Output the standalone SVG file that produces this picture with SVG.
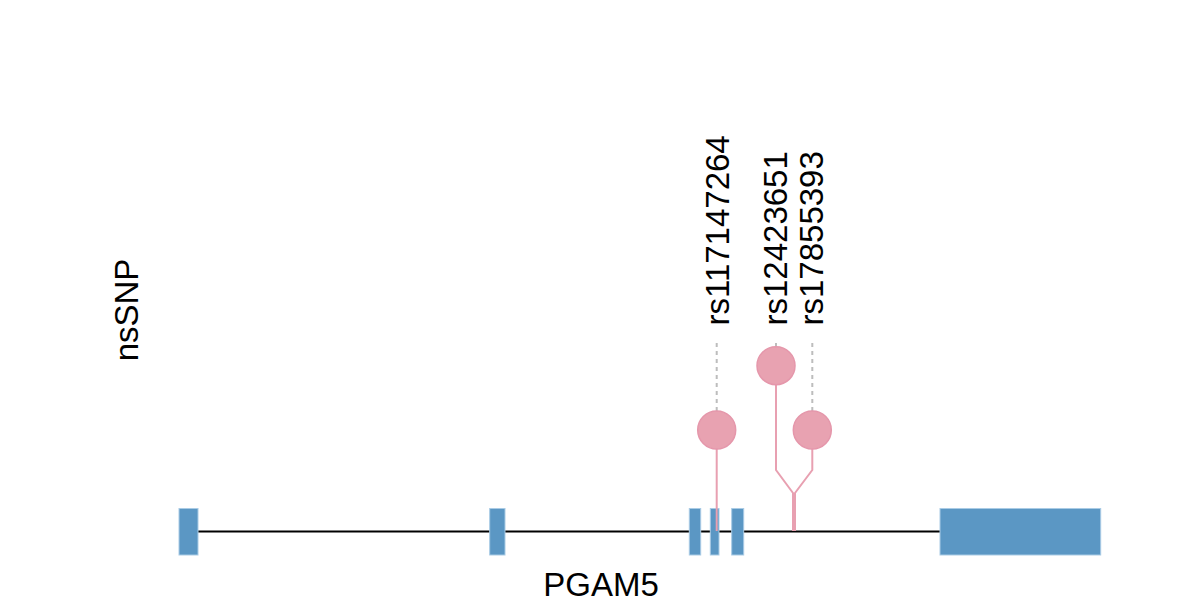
<svg xmlns="http://www.w3.org/2000/svg" width="1200" height="600" viewBox="0 0 1200 600">
<style>
.exon{fill:#5B97C4;stroke:#A9CBE5;stroke-width:1}
.stick{fill:none;stroke:#E8A0B1;stroke-width:2}
.dash{fill:none;stroke:#BDBDBD;stroke-width:2;stroke-dasharray:4 4}
.snp{fill:#E8A2B1;stroke:#E597AB;stroke-width:1.5}
.lbl{font-family:"Liberation Sans",Arial,sans-serif;font-size:33px;fill:#000}
</style>
<rect width="1200" height="600" fill="#fff"/>
<g id="gene">
<line x1="198" y1="531.5" x2="940" y2="531.5" stroke="#000" stroke-width="2"/>
<rect class="exon" x="179" y="508.5" width="19" height="46.5"/>
<rect class="exon" x="489.7" y="508.5" width="15.3" height="46.5"/>
<rect class="exon" x="689.3" y="508.5" width="11.4" height="46.5"/>
<rect class="exon" x="710.3" y="508.5" width="8.7" height="46.5"/>
<rect class="exon" x="731.7" y="508.5" width="12" height="46.5"/>
<rect class="exon" x="940" y="508.5" width="160.7" height="46.5"/>
<text class="lbl" x="601" y="596" text-anchor="middle">PGAM5</text>
</g>
<g id="connectors">
<line class="dash" x1="716.7" y1="343" x2="716.7" y2="411"/>
<line class="dash" x1="776" y1="343" x2="776" y2="347"/>
<line class="dash" x1="812.3" y1="343" x2="812.3" y2="411"/>
<line class="stick" x1="716.7" y1="449" x2="716.7" y2="531"/>
<polyline class="stick" points="776,385 776,470 793,493 793,531"/>
<polyline class="stick" points="812.3,449 812.3,470 795,493 795,531"/>
</g>
<g id="snp1">
<circle class="snp" cx="716.7" cy="430" r="19"/>
<text class="lbl" transform="translate(728.5,325.5) rotate(-90)">rs117147264</text>
</g>
<g id="snp2">
<circle class="snp" cx="776" cy="365.7" r="19"/>
<text class="lbl" transform="translate(787,325.5) rotate(-90)">rs12423651</text>
</g>
<g id="snp3">
<circle class="snp" cx="812.3" cy="430" r="19"/>
<text class="lbl" transform="translate(823.3,325.5) rotate(-90)">rs17855393</text>
</g>
<g id="ylabel">
<text class="lbl" text-anchor="middle" transform="translate(138,310) rotate(-90)">nsSNP</text>
</g>
</svg>
